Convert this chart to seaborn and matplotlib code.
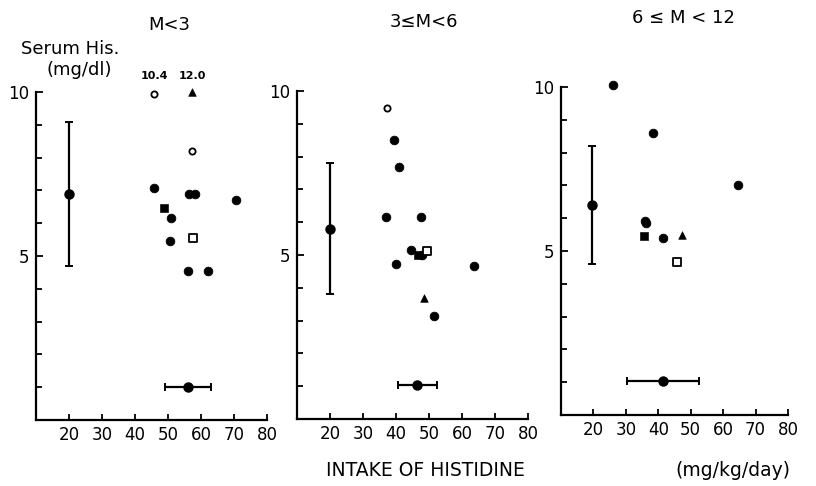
import numpy as np
import pandas as pd
import seaborn as sns
import matplotlib.pyplot as plt

# -----------------------------
# Data
# -----------------------------
# marker kinds: fc = filled circle, oc = open circle, fs = filled square,
#               os = open square, ft = filled triangle
p1_x = [45.8, 57.3, 57.3, 45.8, 56.4, 58.2, 70.6, 48.8, 50.9, 57.6, 50.6, 56.1, 62.1]
p1_y = [9.94, 10.0, 8.2, 7.07, 6.89, 6.89, 6.7, 6.46, 6.16, 5.55, 5.46, 4.54, 4.54]
p1_kind = ['oc', 'ft', 'oc', 'fc', 'fc', 'fc', 'fc', 'fs', 'fc', 'os', 'fc', 'fc', 'fc']

p2_x = [37.3, 39.4, 40.9, 37.0, 47.6, 44.5, 49.4, 46.8, 47.8, 40.0, 63.6, 48.5, 51.5]
p2_y = [9.48, 8.5, 7.67, 6.15, 6.15, 5.15, 5.12, 5.0, 5.0, 4.72, 4.67, 3.7, 3.15]
p2_kind = ['oc', 'fc', 'fc', 'fc', 'fc', 'fc', 'os', 'fs', 'fc', 'fc', 'fc', 'ft', 'fc']

p3_x = [26.0, 38.3, 64.5, 35.9, 36.2, 35.5, 41.4, 47.2, 45.7]
p3_y = [10.06, 8.6, 7.0, 5.9, 5.85, 5.45, 5.4, 5.48, 4.67]
p3_kind = ['fc', 'fc', 'fc', 'fc', 'fc', 'fs', 'fc', 'ft', 'os']

# reference bars: serum mean +/- sd at intake 20, intake mean +/- sd at serum 1
serum_x = [20.0, 20.0, 19.5]
serum_mean = [6.9, 5.8, 6.4]
serum_sd = [2.2, 2.0, 1.8]
intake_mean = [56.0, 46.5, 41.5]
intake_sd = [7.0, 6.0, 11.0]
intake_y = [1.0, 1.05, 1.05]

titles = ['M<3', '3≤M<6', '6 ≤ M < 12']
x_ticks = [20, 30, 40, 50, 60, 70, 80]

panels = [(p1_x, p1_y, p1_kind), (p2_x, p2_y, p2_kind), (p3_x, p3_y, p3_kind)]

# -----------------------------
# Style
# -----------------------------
sns.set_style("ticks")
plt.rcParams['font.family'] = ['DejaVu Sans']
plt.rcParams['text.color'] = 'black'

kind_style = {
    'fc': dict(marker='o', s=40, color='black', edgecolor='black'),
    'oc': dict(marker='o', s=20, color='white', edgecolor='black', linewidth=1.3),
    'fs': dict(marker='s', s=30, color='black', edgecolor='black'),
    'os': dict(marker='s', s=28, color='white', edgecolor='black', linewidth=1.3),
    'ft': dict(marker='^', s=30, color='black', edgecolor='black'),
}

fig = plt.figure(figsize=(8.16, 4.86), dpi=100)
W, H = 816, 486
boxes = [(36, 420, 231), (297, 419, 231), (561, 415, 227)]
title_pos = [(169, 25), (424, 22), (683, 18)]

for i, (px, py, pk) in enumerate(panels):
    left, bottom, width = boxes[i]
    ax = fig.add_axes([left / W, (H - bottom) / H, width / W, 328 / H])
    df = pd.DataFrame({'x': px, 'y': py, 'kind': pk})
    for k, st in kind_style.items():
        sub = df[df['kind'] == k]
        if len(sub):
            sns.scatterplot(data=sub, x='x', y='y', ax=ax, zorder=3, clip_on=False, **st)

    # vertical bar (serum)
    ax.errorbar(serum_x[i], serum_mean[i], yerr=serum_sd[i], fmt='o', color='black',
                ms=6.5, lw=1.6, capsize=3, capthick=1.4, clip_on=False)
    # horizontal bar (intake)
    ax.errorbar(intake_mean[i], intake_y[i], xerr=intake_sd[i], fmt='o', color='black',
                ms=6.5, lw=1.6, capsize=3, capthick=1.4, clip_on=False)

    ax.set_xlim(10, 80)
    ax.set_ylim(0, 10)
    ax.set_xticks(x_ticks)
    ax.set_xticklabels([str(t) for t in x_ticks], fontsize=12)
    ax.set_yticks([5, 10])
    ax.set_yticklabels(['5', '10'], fontsize=12)
    ax.set_yticks(range(1, 10), minor=True)
    ax.tick_params(axis='both', which='both', direction='in', color='black',
                   width=1.3, labelcolor='black')
    ax.tick_params(axis='y', which='major', length=5, pad=5)
    ax.tick_params(axis='y', which='minor', length=4)
    ax.tick_params(axis='x', length=4, pad=4)
    ax.set_xlabel('')
    ax.set_ylabel('')
    ax.set_facecolor('none')
    for sp in ['top', 'right']:
        ax.spines[sp].set_visible(False)
    for sp in ['left', 'bottom']:
        ax.spines[sp].set_linewidth(1.6)
        ax.spines[sp].set_color('black')

    tx, ty = title_pos[i]
    fig.text(tx / W, 1 - ty / H, titles[i], fontsize=13, ha='center', va='center',
             color='black')

    if i == 0:
        ax.text(45.8, 10.35, '10.4', fontsize=8, ha='center', va='bottom',
                fontweight='bold', color='black')
        ax.text(57.3, 10.35, '12.0', fontsize=8, ha='center', va='bottom',
                fontweight='bold', color='black')

fig.text(70 / W, 1 - 49 / H, 'Serum His.', fontsize=13, ha='center', va='center', color='black')
fig.text(79 / W, 1 - 70 / H, '(mg/dl)', fontsize=13, ha='center', va='center', color='black')
fig.text(425 / W, 1 - 470 / H, 'INTAKE OF HISTIDINE', fontsize=13.5, ha='center',
         va='center', color='black')
fig.text(733 / W, 1 - 470 / H, '(mg/kg/day)', fontsize=13.5, ha='center', va='center',
         color='black')

fig.savefig('out.png', dpi=100, facecolor='white')
